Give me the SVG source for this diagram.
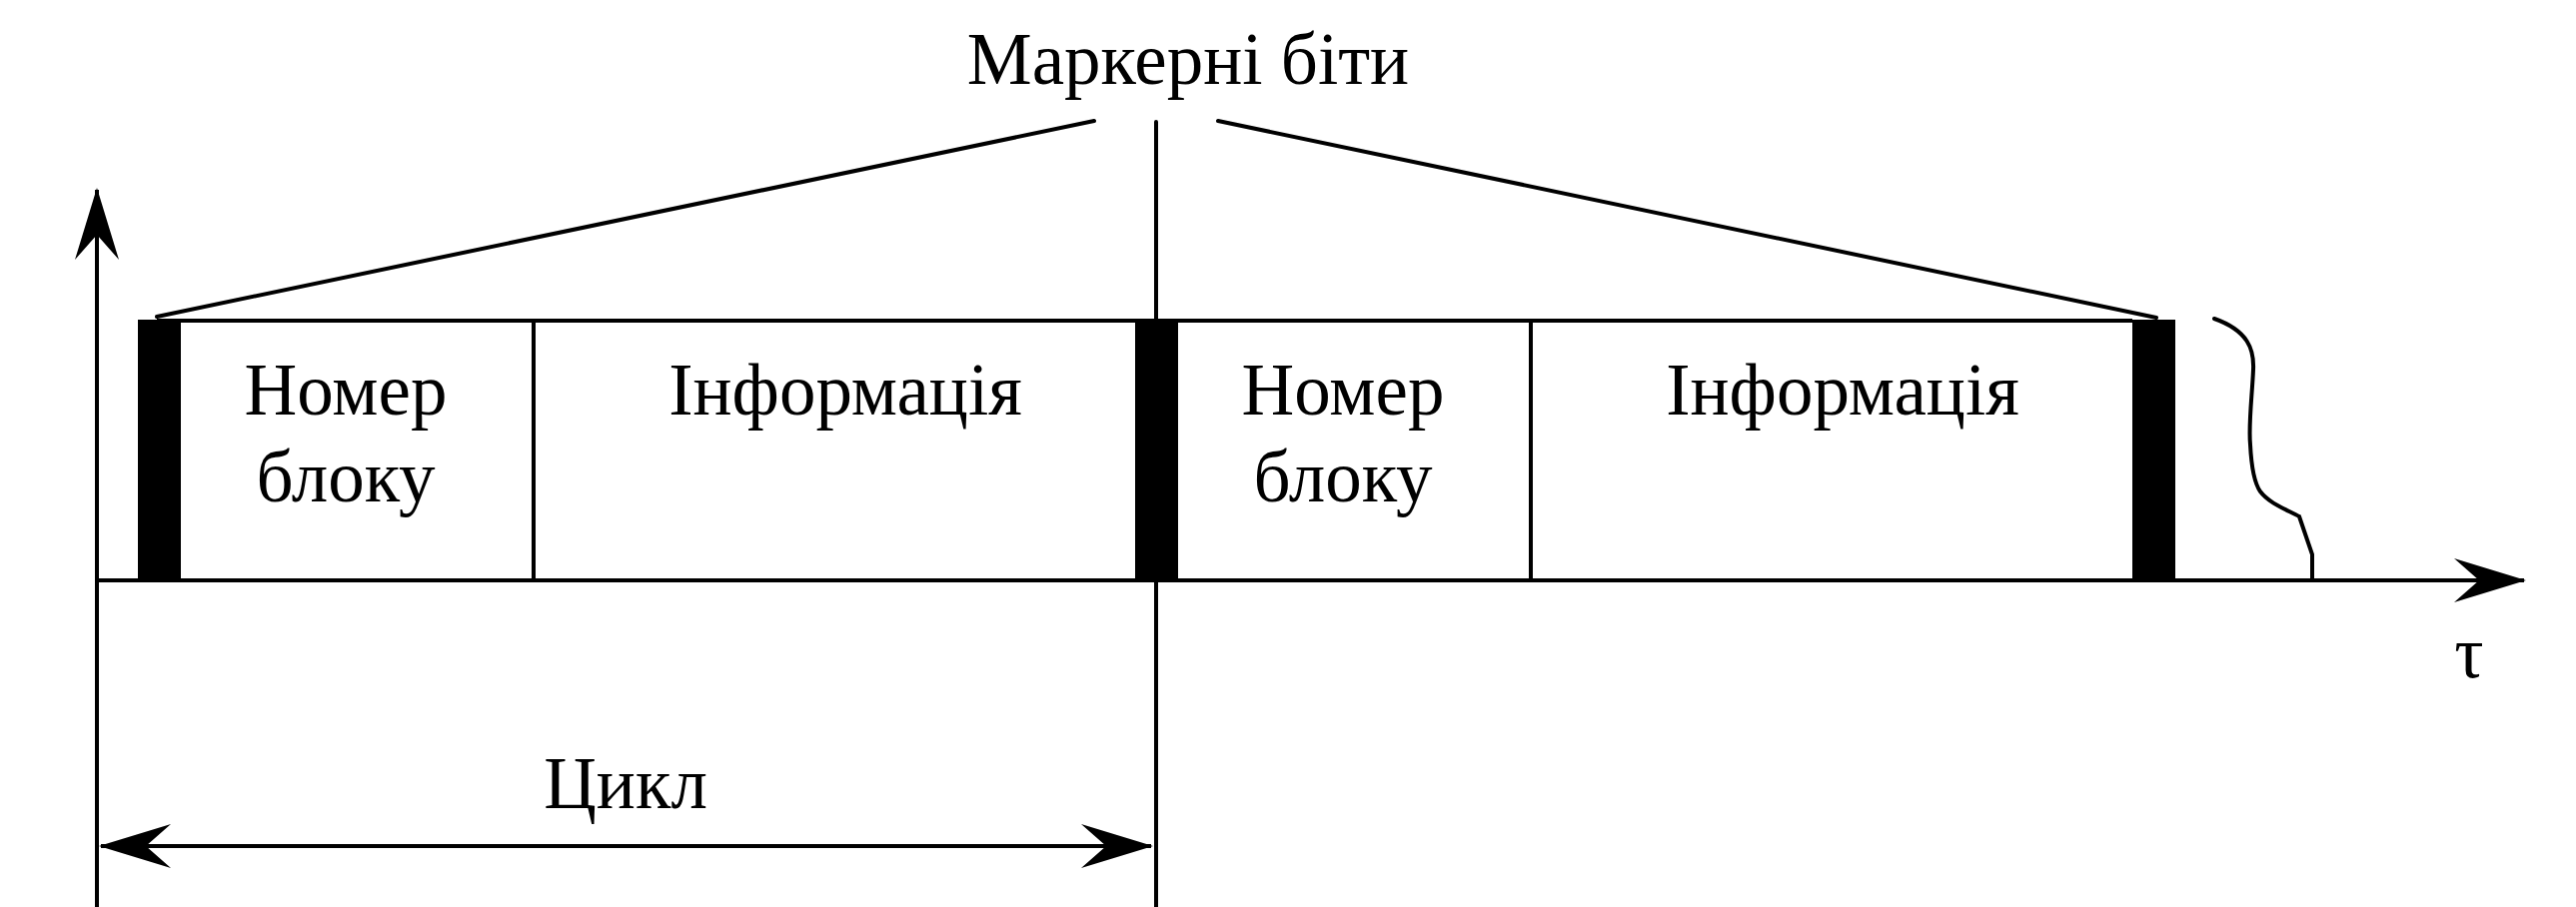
<svg xmlns="http://www.w3.org/2000/svg" width="2578" height="908" viewBox="0 0 2578 908">
  <style>
    .ln { fill: none; stroke: #000; stroke-width: 4; stroke-linecap: round; }
    .ax { fill: none; stroke: #000; stroke-width: 4; }
    .mk { fill: #000; stroke: none; }
    .tx { font-family: "Liberation Serif", "Times New Roman", serif; font-size: 73px; fill: #000; text-anchor: middle; }
  </style>
  <defs>
    <marker id="arr" viewBox="0 0 72 44" refX="70" refY="22" markerWidth="72" markerHeight="44" markerUnits="userSpaceOnUse" orient="auto-start-reverse">
      <path d="M0,0 L72,22 L0,44 L25,22 Z" fill="#000"/>
    </marker>
  </defs>
  <rect width="2578" height="908" fill="#fff"/>

  <!-- axes -->
  <g id="axes">
    <line class="ax" x1="97" y1="908" x2="97" y2="190" marker-end="url(#arr)"/>
    <line class="ax" x1="97" y1="581" x2="2526" y2="581" marker-end="url(#arr)"/>
    <text class="tx" x="2471" y="678">τ</text>
  </g>

  <!-- cycle frame -->
  <g id="frame">
    <line class="ax" x1="157" y1="321" x2="2134" y2="321"/>
    <line class="ax" x1="534" y1="321" x2="534" y2="581"/>
    <line class="ax" x1="1532" y1="321" x2="1532" y2="581"/>
  </g>

  <!-- marker bits -->
  <g id="marker-1"><rect class="mk" x="138" y="320" width="43" height="263"/></g>
  <g id="marker-2"><rect class="mk" x="1136" y="320" width="43" height="263"/></g>
  <g id="marker-3"><rect class="mk" x="2134" y="320" width="43" height="263"/></g>

  <!-- fields -->
  <g id="block-no-1">
    <text class="tx" x="346" y="415">Номер</text>
    <text class="tx" x="346" y="502">блоку</text>
  </g>
  <g id="info-1"><text class="tx" x="846" y="415">Інформація</text></g>
  <g id="block-no-2">
    <text class="tx" x="1344" y="415">Номер</text>
    <text class="tx" x="1344" y="502">блоку</text>
  </g>
  <g id="info-2"><text class="tx" x="1844" y="415">Інформація</text></g>

  <!-- label of marker bits -->
  <g id="marker-label"><text class="tx" x="1189" y="84">Маркерні біти</text></g>

  <!-- connectors -->
  <g id="connectors">
    <line class="ln" x1="157" y1="317" x2="1095" y2="121"/>
    <line class="ln" x1="1219" y1="121" x2="2158" y2="318"/>
    <line class="ln" x1="1157" y1="122" x2="1157" y2="908"/>
    <path class="ln" d="M2216,319 C2250,331 2256,350 2255,370 C2254,395 2250,425 2252,445 C2253,465 2255,482 2262,492 C2271,504 2288,510 2301,517 L2314,555 L2314,581"/>
    <line class="ax" x1="101" y1="847" x2="1152" y2="847" marker-start="url(#arr)" marker-end="url(#arr)"/>
    <text class="tx" x="626" y="809">Цикл</text>
  </g>
</svg>
